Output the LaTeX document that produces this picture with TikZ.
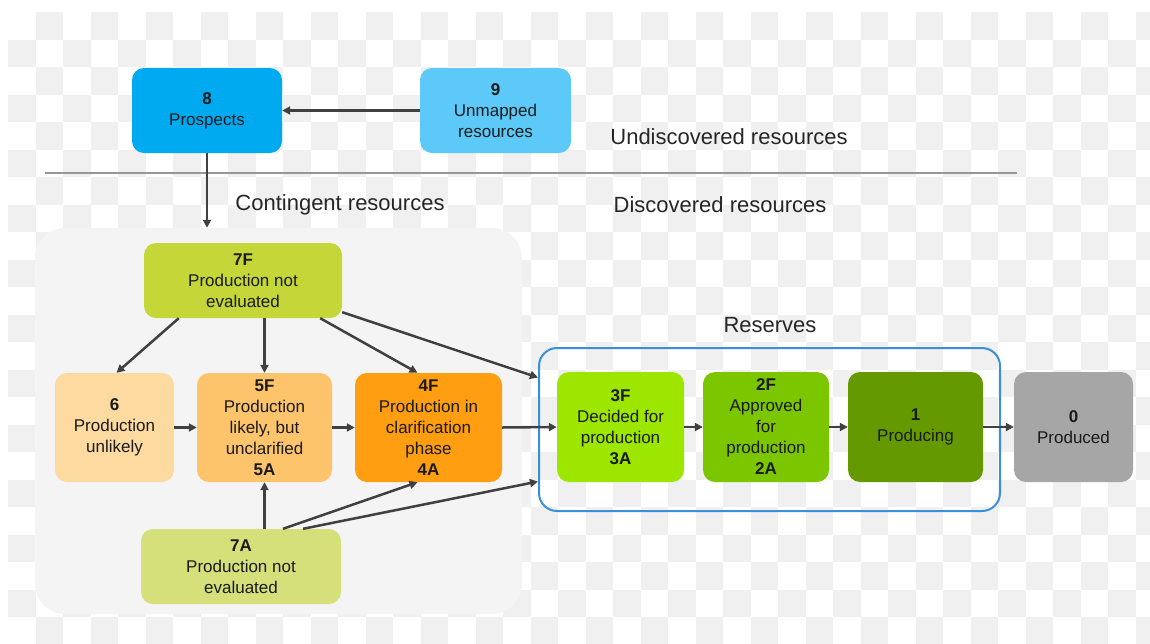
\documentclass[tikz,border=0pt]{standalone}
\usepackage{fontspec}
\setmainfont{Liberation Sans}
\usetikzlibrary{arrows.meta}
\definecolor{checker}{RGB}{240,240,240}
\definecolor{contfill}{RGB}{244,244,244}
\definecolor{txt}{RGB}{26,26,26}
\definecolor{lbl}{RGB}{38,38,38}
\definecolor{arrc}{RGB}{64,64,64}
\definecolor{divc}{RGB}{150,150,150}
\definecolor{resblue}{RGB}{58,143,220}
\definecolor{c8}{RGB}{0,170,240}
\definecolor{c9}{RGB}{92,201,248}
\definecolor{c7F}{RGB}{197,214,56}
\definecolor{c7A}{RGB}{214,224,122}
\definecolor{c6}{RGB}{253,218,160}
\definecolor{c5}{RGB}{253,196,108}
\definecolor{c4}{RGB}{255,158,16}
\definecolor{c3}{RGB}{156,230,0}
\definecolor{c2}{RGB}{124,198,0}
\definecolor{c1}{RGB}{100,154,0}
\definecolor{c0}{RGB}{166,166,166}
\begin{document}
\begin{tikzpicture}[x=1pt,y=-1pt,
  box/.style={rectangle, rounded corners=12pt, inner sep=0pt, align=center,
    font=\fontsize{17}{21}\selectfont, text=txt},
  lab/.style={font=\fontsize{22}{26}\selectfont, text=lbl, inner sep=0pt},
  arr/.style={draw=arrc, line width=2.5pt, -{Triangle[length=8pt,width=8pt]}}]
\useasboundingbox (0,0) rectangle (1150,643);
% checkerboard background
\begin{scope}
\clip (8,12) rectangle (1150,643);
\foreach \r in {0,...,22}{
  \pgfmathtruncatemacro\cs{mod(\r+1,2)}
  \foreach \k in {0,...,20}{
    \pgfmathsetmacro\xx{8+27.5*(2*\k+\cs)}
    \pgfmathsetmacro\yy{12+27.5*\r}
    \fill[checker] (\xx,\yy) rectangle ++(27.5,27.5);
  }
}
\end{scope}
% contingent region
\node[fill=contfill, rounded corners=30pt, minimum width=487pt, minimum height=386pt, inner sep=0pt] (cont) at (278.5,421) {};
% divider
\coordinate (divL) at (45,173);
\coordinate (divR) at (1017,173);
\draw[divc, line width=2pt] (divL) -- (divR);
% reserves box
\node[draw=resblue, line width=2pt, rounded corners=18pt, minimum width=461pt, minimum height=163pt, inner sep=0pt] (res) at (769.5,429.5) {};
% labels
\node[lab] (lundisc) at (729,137) {Undiscovered resources};
\node[lab] (lcont) at (340,205) {Contingent resources};
\node[lab] (ldisc) at (720,205) {Discovered resources};
\node[lab] (lres) at (770,325) {Reserves};
% boxes
\node[box, fill=c8, minimum width=150pt, minimum height=85pt] (n8) at (207,110.5) {\textbf{8}\\Prospects};
\node[box, fill=c9, minimum width=151pt, minimum height=85pt] (n9) at (495.5,110.5) {\textbf{9}\\Unmapped\\resources};
\node[box, fill=c7F, minimum width=198pt, minimum height=75pt] (n7F) at (243,280.5) {\textbf{7F}\\Production not\\evaluated};
\node[box, fill=c6, minimum width=119pt, minimum height=109pt] (n6) at (114.5,427.5) {\textbf{6}\\Production\\unlikely};
\node[box, fill=c5, minimum width=135pt, minimum height=109pt] (n5) at (264.5,427.5) {\textbf{5F}\\Production\\likely, but\\unclarified\\\textbf{5A}};
\node[box, fill=c4, minimum width=147pt, minimum height=109pt] (n4) at (428.5,427.5) {\textbf{4F}\\Production in\\clarification\\phase\\\textbf{4A}};
\node[box, fill=c7A, minimum width=200pt, minimum height=75pt] (n7A) at (241,566.5) {\textbf{7A}\\Production not\\evaluated};
\node[box, fill=c3, minimum width=127pt, minimum height=110pt] (n3) at (620.5,427) {\textbf{3F}\\Decided for\\production\\\textbf{3A}};
\node[box, fill=c2, minimum width=126pt, minimum height=110pt] (n2) at (766,427) {\textbf{2F}\\Approved\\for\\production\\\textbf{2A}};
\node[box, fill=c1, minimum width=135pt, minimum height=110pt] (n1) at (915.5,427) {\textbf{1}\\Producing};
\node[box, fill=c0, minimum width=119pt, minimum height=110pt] (n0) at (1073.5,427) {\textbf{0}\\Produced};
% connectors
\draw[arr] (n9.west) -- (n8.east);
\draw[arr] (n8.south) -- (n8.south |- cont.north);
\draw[arr] ([xshift=35pt]n7F.south west) -- ([xshift=2pt]n6.north);
\draw[arr] (n7F.south -| n5.north) -- (n5.north);
\draw[arr] ([xshift=-22pt]n7F.south east) -- ([xshift=-11pt]n4.north);
\draw[arr] ([yshift=6pt]n7F.south east) -- ([yshift=52pt]res.west);
\draw[arr] (n6.east) -- (n5.west);
\draw[arr] (n5.east) -- (n4.west);
\draw[arr] (n4.east) -- (n3.west);
\draw[arr] (n3.east) -- (n2.west);
\draw[arr] (n2.east) -- (n1.west);
\draw[arr] (n1.east) -- (n0.west);
\draw[arr] (n7A.north -| n5.south) -- (n5.south);
\draw[arr] ([xshift=42pt]n7A.north) -- ([xshift=-11pt]n4.south);
\draw[arr] ([xshift=62pt]n7A.north) -- ([yshift=-52pt]res.west);
\end{tikzpicture}
\end{document}
